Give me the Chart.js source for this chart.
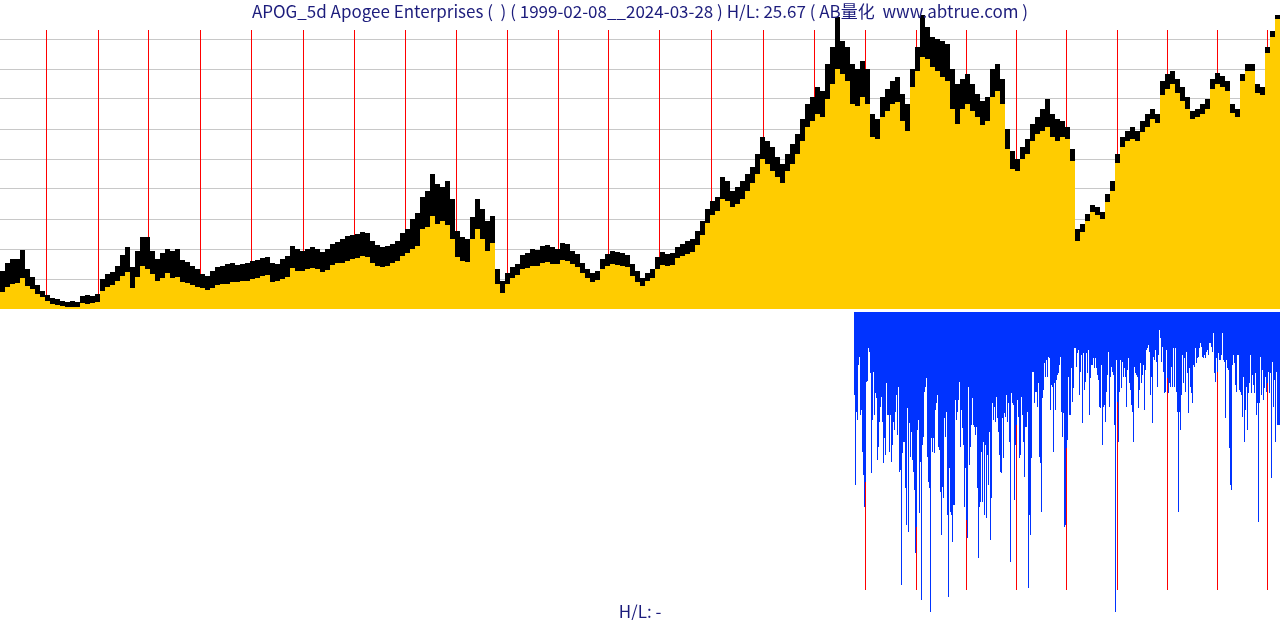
<!DOCTYPE html>
<html>
<head>
<meta charset="utf-8">
<script src="https://cdn.jsdelivr.net/npm/chart.js@4.4.1/dist/chart.umd.min.js"></script>
<style>
html, body { margin: 0; padding: 0; background: #fff; }
#wrap { position: relative; width: 1280px; height: 620px; overflow: hidden; }
#top { position: absolute; left: 0; top: 0; }
#bot { position: absolute; left: 0; top: 312px; }
.txt { position: absolute; left: 0; width: 1280px; text-align: center; color: #1c1c7c;
       font-family: "Noto Sans CJK SC", "Noto Sans", sans-serif; font-size: 17px;
       line-height: 22px; white-space: pre; z-index: 2; }
</style>
</head>
<body>
<div id="wrap">
  <canvas id="top" width="1280" height="309"></canvas>
  <canvas id="bot" width="1280" height="308"></canvas>
  <div class="txt" style="top:0">APOG_5d Apogee Enterprises (  ) ( 1999-02-08__2024-03-28 ) H/L: 25.67 ( AB量化  www.abtrue.com )</div>
  <div class="txt" style="top:600px">H/L: -</div>
</div>
<script>
// week index (one bar per week) where each year starts, 2000..2024
const yearStartWeek = [46, 98, 148, 200, 251, 303, 354, 405, 456, 507, 558, 608, 659,
  711, 763, 814, 865, 916, 966, 1016, 1066, 1117, 1167, 1217, 1267];
const totalWeeks = 1280;

// price panel, one sample per 5 weeks: top of the range and close
const weeksPerSample = 5;
const high = [
  38, 46, 50, 50, 59, 40, 32, 24, 18, 14,
  11, 10, 8, 7, 8, 7, 13, 14, 13, 15,
  30, 35, 37, 43, 54, 62, 42, 58, 72, 72,
  58, 50, 56, 60, 58, 60, 49, 47, 43, 40,
  35, 33, 38, 42, 43, 45, 46, 44, 45, 46,
  48, 49, 51, 52, 46, 45, 50, 53, 63, 60,
  58, 60, 62, 60, 57, 60, 65, 67, 70, 73,
  74, 75, 77, 76, 68, 64, 62, 63, 65, 68,
  76, 80, 90, 96, 112, 118, 135, 125, 122, 128,
  110, 78, 72, 70, 92, 110, 100, 88, 93, 40,
  28, 36, 42, 45, 54, 56, 60, 59, 63, 64,
  62, 60, 66, 65, 58, 55, 46, 40, 36, 38,
  50, 55, 58, 57, 56, 54, 45, 38, 31, 36,
  40, 52, 57, 55, 56, 62, 65, 68, 70, 78,
  88, 100, 108, 112, 132, 128, 118, 122, 128, 135,
  142, 155, 172, 168, 162, 152, 145, 155, 165, 175,
  190, 205, 212, 222, 218, 245, 262, 292, 268, 262,
  245, 240, 248, 240, 195, 190, 212, 220, 228, 232,
  215, 205, 240, 262, 294, 282, 272, 270, 268, 265,
  240, 225, 230, 235, 225, 215, 208, 212, 240, 245,
  230, 180, 158, 150, 162, 170, 185, 192, 200, 210,
  195, 190, 188, 182, 160, 80, 85, 95, 104, 102,
  97, 115, 128, 155, 172, 178, 182, 178, 188, 195,
  200, 195, 228, 235, 238, 230, 222, 212, 198, 200,
  205, 210, 230, 236, 233, 228, 205, 200, 235, 245,
  245, 225, 222, 262, 278, 294
];
const close = [
  17, 22, 25, 26, 31, 23, 20, 15, 12, 8,
  5, 4, 3, 2, 2, 2, 6, 5, 6, 7,
  18, 22, 24, 28, 33, 37, 21, 32, 43, 40,
  35, 28, 31, 36, 31, 32, 27, 26, 24, 22,
  21, 19, 21, 24, 25, 25, 27, 27, 28, 28,
  30, 31, 33, 34, 27, 28, 30, 32, 41, 38,
  38, 40, 41, 40, 37, 39, 44, 46, 46, 48,
  50, 51, 53, 52, 46, 43, 42, 43, 46, 48,
  53, 56, 60, 63, 80, 82, 93, 85, 88, 84,
  70, 52, 48, 47, 70, 80, 70, 58, 66, 25,
  16, 25, 31, 34, 40, 41, 43, 43, 46, 47,
  45, 45, 49, 48, 45, 42, 36, 31, 27, 29,
  40, 43, 45, 44, 43, 42, 33, 27, 23, 28,
  31, 40, 44, 43, 44, 51, 53, 55, 57, 64,
  74, 86, 94, 98, 110, 108, 102, 105, 110, 118,
  126, 135, 150, 145, 138, 132, 126, 138, 145, 155,
  168, 182, 188, 195, 192, 210, 225, 240, 235, 228,
  205, 203, 212, 205, 172, 170, 192, 198, 205, 207,
  188, 178, 222, 238, 252, 250, 242, 238, 232, 228,
  200, 185, 200, 205, 198, 192, 184, 188, 212, 218,
  205, 160, 140, 138, 150, 155, 168, 175, 178, 182,
  172, 168, 172, 170, 148, 68, 77, 88, 97, 94,
  90, 107, 118, 146, 162, 168, 170, 168, 177, 182,
  190, 186, 214, 220, 225, 216, 208, 200, 190, 192,
  195, 200, 220, 225, 222, 218, 196, 192, 228, 238,
  238, 216, 214, 256, 272, 290
];
const priceGrid = [30, 60, 90, 120, 150, 180, 210, 240, 270];

// lower panel, weekly, starts late in 2015
const lowerStartWeek = 854;
const lower = [
  83,173, 100,108, 53,45, 103,98, 140,163, 195,170, 70,69, 36,40, 61,161, 108,60,
  103,81, 86,148, 135,110, 95,85, 110,151, 126,143, 71,103, 103,140, 103,150, 133,110,
  118,100, 83,123, 75,160, 158,273, 141,130, 130,176, 213,96, 220,111, 145,120, 148,160,
  178,241, 215,118, 108,201, 150,288, 133,125, 80,75, 66,145, 170,176, 300,126, 140,126,
  141,98, 91,83, 135,138, 180,223, 175,186, 106,125, 100,203, 285,156, 200,203, 230,193,
  193,88, 108,100, 88,70, 135,98, 116,133, 195,156, 208,226, 75,153, 135,113, 86,113,
  115,123, 115,176, 246,195, 190,140, 190,130, 203,133, 206,143, 173,120, 228,186, 91,108,
  95,110, 85,106, 120,143, 160,161, 106,146, 101,105, 83,110, 91,130, 250,81, 91,93,
  188,133, 113,88, 105,146, 143,85, 103,130, 165,115, 115,100, 276,203, 223,146, 60,60,
  91,80, 80,95, 71,145, 151,200, 86,78, 51,65, 48,65, 45,46, 98,73, 75,140,
  71,98, 68,63, 61,53, 45,100, 125,101, 215,213, 136,128, 65,103, 103,56, 90,76,
  36,36, 55,41, 38,83, 60,43, 111,41, 78,70, 41,61, 38,103, 66,53, 53,46,
  56,46, 56,63, 68,95, 96,53, 133,95, 93,110, 80,63, 40,95, 65,55, 60,63,
  113,300, 48,90, 130,80, 48,76, 50,65, 56,65, 95,58, 46,71, 78,93, 100,130,
  55,61, 63,65, 96,78, 51,71, 63,53, 98,58, 38,36, 33,40, 83,65, 111,45,
  48,38, 50,75, 43,18, 26,50, 35,60, 81,80, 38,66, 81,71, 75,55, 75,36,
  75,36, 80,100, 200,100, 118,83, 43,71, 46,80, 40,61, 101,56, 75,81, 91,53,
  55,36, 51,46, 45,36, 31,35, 45,46, 43,46, 40,38, 43,31, 31,35, 40,21,
  61,70, 46,60, 41,48, 48,43, 21,48, 50,106, 48,56, 58,136, 173,178, 53,43,
  51,73, 80,43, 43,78, 80,83, 105,65, 130,98, 75,118, 81,71, 43,81, 63,73,
  81,61, 103,91, 210,91, 45,83, 58,88, 76,65, 80,71, 60,81, 61,166, 50,95,
  68,130, 60,113, 113,113
];

// red year separators, drawn behind the bars, only where the panel has data
const yearLines = {
  id: 'yearLines',
  beforeDatasetsDraw(chart, args, opts) {
    const { ctx, scales: { x, y } } = chart;
    const yA = y.getPixelForValue(0), yB = y.getPixelForValue(opts.span);
    ctx.save();
    ctx.strokeStyle = '#ff0000';
    ctx.lineWidth = 1;
    ctx.beginPath();
    yearStartWeek.filter(w => w >= opts.from).forEach(w => {
      const px = Math.floor(x.getPixelForValue(w)) + 0.5;
      ctx.moveTo(px, yA);
      ctx.lineTo(px, yB);
    });
    ctx.stroke();
    ctx.restore();
  }
};

const xCenter = i => i * weeksPerSample + weeksPerSample / 2;
const weekAxis = { type: 'linear', min: 0, max: totalWeeks, offset: false, display: false };

new Chart(document.getElementById('top'), {
  type: 'bar',
  data: {
    datasets: [{
      data: close.map((v, i) => ({ x: xCenter(i), y: v })),
      backgroundColor: '#ffcc00',
      grouped: false,
      inflateAmount: 0,
      barPercentage: 1,
      categoryPercentage: 1
    }, {
      data: high.map((v, i) => ({ x: xCenter(i), y: [close[i], v] })),
      backgroundColor: '#000000',
      grouped: false,
      inflateAmount: 0,
      barPercentage: 1,
      categoryPercentage: 1
    }]
  },
  options: {
    responsive: false,
    animation: false,
    layout: { padding: 0 },
    plugins: {
      legend: { display: false },
      tooltip: { enabled: false },
      yearLines: { span: 279, from: 0 }
    },
    scales: {
      x: weekAxis,
      y: {
        min: 0, max: 309,
        ticks: { display: false },
        grid: { color: '#c8c8c8', drawTicks: false },
        border: { display: false },
        afterBuildTicks: s => { s.ticks = priceGrid.map(v => ({ value: v })); },
        afterFit: s => { s.width = 0; }
      }
    }
  },
  plugins: [yearLines]
});

new Chart(document.getElementById('bot'), {
  type: 'bar',
  data: {
    datasets: [{
      data: lower.map((v, i) => ({ x: lowerStartWeek + i + 0.5, y: v })),
      backgroundColor: '#0033ff',
      inflateAmount: 0,
      barPercentage: 1,
      categoryPercentage: 1
    }]
  },
  options: {
    responsive: false,
    animation: false,
    layout: { padding: 0 },
    plugins: {
      legend: { display: false },
      tooltip: { enabled: false },
      yearLines: { span: 278, from: lowerStartWeek }
    },
    scales: {
      x: weekAxis,
      y: { reverse: true, min: 0, max: 308, display: false }
    }
  },
  plugins: [yearLines]
});
</script>
</body>
</html>
